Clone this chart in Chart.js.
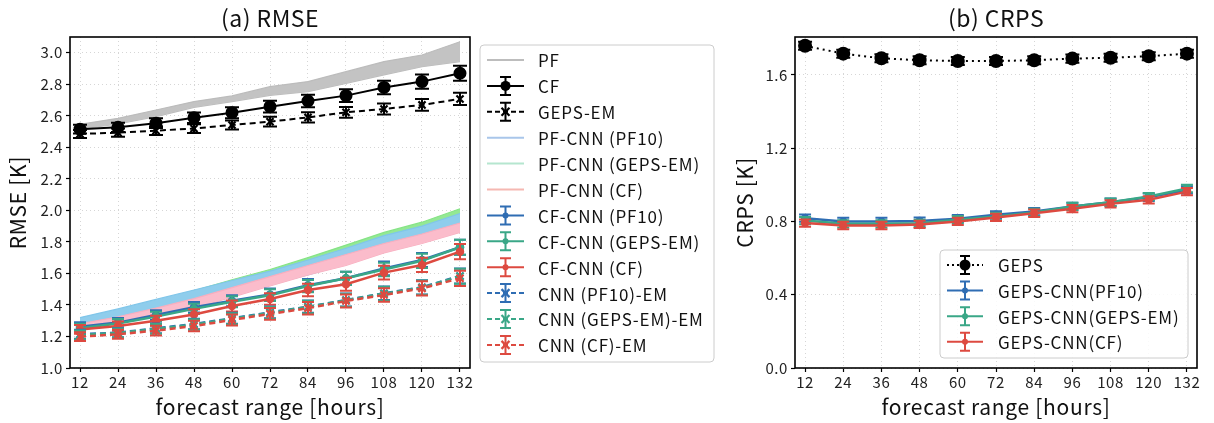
<!DOCTYPE html>
<html>
<head>
<meta charset="utf-8">
<script src="https://cdn.jsdelivr.net/npm/chart.js@4.4.0/dist/chart.umd.min.js"></script>
<style>
  html, body { margin: 0; padding: 0; background: #fff; }
  #wrap { position: relative; width: 1214px; height: 423px; }
  #chartA { position: absolute; left: 0; top: 0; }
  #chartB { position: absolute; left: 725px; top: 0; }
</style>
</head>
<body>
<div id="wrap">
  <canvas id="chartA" width="725" height="423"></canvas>
  <canvas id="chartB" width="489" height="423"></canvas>
</div>
<script>
/***** 1) DATA *****/
const hours     = [12, 24, 36, 48, 60, 72, 84, 96, 108, 120, 132];
const rmseTicks = [1.0, 1.2, 1.4, 1.6, 1.8, 2.0, 2.2, 2.4, 2.6, 2.8, 3.0];
const crpsTicks = [0.0, 0.4, 0.8, 1.2, 1.6];

// (a) RMSE
const pfLow  = [2.515, 2.548, 2.595, 2.654, 2.690, 2.730, 2.753, 2.806, 2.860, 2.912, 2.944];
const pfHigh = [2.546, 2.584, 2.637, 2.690, 2.726, 2.785, 2.817, 2.880, 2.944, 2.986, 3.070];
const cf        = [2.515, 2.527, 2.553, 2.588, 2.620, 2.658, 2.694, 2.728, 2.780, 2.817, 2.870];
const cfErr     = [0.028, 0.029, 0.031, 0.033, 0.035, 0.037, 0.039, 0.041, 0.043, 0.045, 0.048];
const gepsEm    = [2.485, 2.493, 2.506, 2.519, 2.542, 2.563, 2.590, 2.622, 2.643, 2.669, 2.707];
const gepsEmErr = [0.025, 0.026, 0.027, 0.028, 0.029, 0.031, 0.032, 0.034, 0.035, 0.037, 0.039];

const pfCnnPf10Low  = [1.27, 1.31, 1.36, 1.41, 1.47, 1.53, 1.59, 1.66, 1.74, 1.80, 1.87];
const pfCnnPf10High = [1.32, 1.375, 1.435, 1.495, 1.555, 1.615, 1.685, 1.76, 1.84, 1.90, 1.98];
const pfCnnGepsLow  = [1.26, 1.30, 1.36, 1.42, 1.48, 1.55, 1.62, 1.69, 1.76, 1.83, 1.91];
const pfCnnGepsHigh = [1.30, 1.36, 1.42, 1.49, 1.56, 1.625, 1.70, 1.78, 1.86, 1.925, 2.01];
const pfCnnCfLow    = [1.25, 1.29, 1.33, 1.38, 1.45, 1.52, 1.59, 1.65, 1.73, 1.79, 1.86];
const pfCnnCfHigh   = [1.28, 1.325, 1.38, 1.44, 1.51, 1.58, 1.65, 1.72, 1.79, 1.85, 1.92];

const cfCnnPf10 = [1.262, 1.288, 1.336, 1.385, 1.427, 1.467, 1.525, 1.569, 1.632, 1.685, 1.766];
const cfCnnGeps = [1.252, 1.282, 1.326, 1.375, 1.420, 1.462, 1.520, 1.569, 1.625, 1.680, 1.766];
const cfCnnCf   = [1.245, 1.266, 1.300, 1.340, 1.393, 1.438, 1.495, 1.531, 1.605, 1.654, 1.738];
const cnnErr    = [0.028, 0.029, 0.031, 0.033, 0.035, 0.037, 0.039, 0.041, 0.043, 0.045, 0.048];

const cnnPf10Em = [1.214, 1.224, 1.252, 1.279, 1.315, 1.353, 1.389, 1.431, 1.474, 1.512, 1.584];
const cnnGepsEm = [1.210, 1.222, 1.248, 1.276, 1.312, 1.350, 1.387, 1.430, 1.472, 1.510, 1.582];
const cnnCfEm   = [1.199, 1.214, 1.237, 1.266, 1.305, 1.343, 1.379, 1.425, 1.463, 1.505, 1.569];

// (b) CRPS
const geps        = [1.759, 1.716, 1.691, 1.680, 1.676, 1.676, 1.680, 1.689, 1.694, 1.702, 1.716];
const gepsErr     = [0.022, 0.022, 0.022, 0.022, 0.022, 0.022, 0.022, 0.022, 0.022, 0.022, 0.022];
const gepsCnnPf10 = [0.818, 0.800, 0.800, 0.802, 0.815, 0.836, 0.854, 0.882, 0.905, 0.932, 0.972];
const gepsCnnGeps = [0.805, 0.787, 0.787, 0.790, 0.810, 0.827, 0.849, 0.882, 0.905, 0.936, 0.980];
const gepsCnnCf   = [0.791, 0.778, 0.778, 0.784, 0.800, 0.822, 0.845, 0.870, 0.896, 0.918, 0.963];
const crpsErr     = [0.020, 0.020, 0.020, 0.020, 0.020, 0.020, 0.020, 0.020, 0.020, 0.020, 0.020];

/***** 2) STYLE *****/
const FONT = "'Noto Sans CJK JP', 'Noto Sans', sans-serif";
const BLUE = "#2f6db3", GREEN = "#3aa787", RED = "#dd4a40";
const X_MIN = 8.84, X_MAX = 135.16;

const pts = (arr) => hours.map((h, i) => ({ x: h, y: arr[i] }));

/***** 3) PLUGINS *****/
// slightly wider text everywhere (reference font runs wide)
const spacing = {
  id: "spacing",
  beforeDraw(chart){ chart.ctx.letterSpacing = "0.6px"; }
};

// error bars drawn right before their own dataset
const errorBars = {
  id: "errorBars",
  beforeDatasetDraw(chart, args){
    const ds = chart.data.datasets[args.index];
    if (!ds.err) return;
    const { ctx } = chart, xs = chart.scales.x, ys = chart.scales.y;
    const c = ds.cap || 6;
    ctx.save();
    ctx.strokeStyle = ds.borderColor;
    ctx.lineWidth = ds.errWidth || 2;
    ctx.setLineDash([]);
    ds.data.forEach((p, i) => {
      const x  = xs.getPixelForValue(p.x);
      const y1 = ys.getPixelForValue(p.y - ds.err[i]);
      const y2 = ys.getPixelForValue(p.y + ds.err[i]);
      ctx.beginPath();
      ctx.moveTo(x, y1); ctx.lineTo(x, y2);
      ctx.moveTo(x - c, y1); ctx.lineTo(x + c, y1);
      ctx.moveTo(x - c, y2); ctx.lineTo(x + c, y2);
      ctx.stroke();
    });
    ctx.restore();
  }
};

function drawMarker(ctx, kind, x, y, r, color){
  ctx.save();
  ctx.setLineDash([]);
  ctx.fillStyle = color; ctx.strokeStyle = color;
  if (kind === "circle"){
    ctx.beginPath(); ctx.arc(x, y, r, 0, Math.PI * 2); ctx.fill();
  } else if (kind === "x"){
    ctx.lineWidth = 2.2;
    ctx.beginPath();
    ctx.moveTo(x - r, y - r); ctx.lineTo(x + r, y + r);
    ctx.moveTo(x - r, y + r); ctx.lineTo(x + r, y - r);
    ctx.stroke();
  }
  ctx.restore();
}

function drawLegend(ctx, box, items){
  ctx.save();
  ctx.fillStyle = "rgba(255,255,255,0.85)";
  ctx.strokeStyle = "#cccccc";
  ctx.lineWidth = 1;
  ctx.beginPath();
  ctx.roundRect(box.x, box.y, box.w, box.h, 4);
  ctx.fill(); ctx.stroke();
  ctx.font = `17px ${FONT}`;
  ctx.letterSpacing = "0.8px";
  ctx.textBaseline = "middle";
  items.forEach((it, i) => {
    const y = box.firstY + i * box.step;
    const cx = (box.lx0 + box.lx1) / 2;
    ctx.strokeStyle = it.color;
    ctx.lineWidth = it.width || 2;
    ctx.setLineDash(it.dash || []);
    ctx.beginPath(); ctx.moveTo(box.lx0, y); ctx.lineTo(box.lx1, y); ctx.stroke();
    ctx.setLineDash([]);
    if (it.err){
      ctx.lineWidth = 2;
      const e = box.errH, c = box.cap;
      ctx.beginPath();
      ctx.moveTo(cx, y - e); ctx.lineTo(cx, y + e);
      ctx.moveTo(cx - c, y - e); ctx.lineTo(cx + c, y - e);
      ctx.moveTo(cx - c, y + e); ctx.lineTo(cx + c, y + e);
      ctx.stroke();
    }
    if (it.marker) drawMarker(ctx, it.marker, cx, y, it.r || 4, it.color);
    ctx.fillStyle = "#111";
    ctx.fillText(it.label, box.tx, y + 1);
  });
  ctx.restore();
}

function frameAndTitles(opts){
  return {
    id: "frameAndTitles",
    afterDraw(chart){
      const { ctx, chartArea: a } = chart;
      ctx.save();
      ctx.strokeStyle = "#000";
      ctx.lineWidth = 1.6;
      ctx.setLineDash([]);
      ctx.strokeRect(a.left, a.top, a.right - a.left, a.bottom - a.top);
      ctx.fillStyle = "#111";
      ctx.textAlign = "center";
      ctx.textBaseline = "middle";
      ctx.letterSpacing = "0.5px";
      ctx.font = `23px ${FONT}`;
      ctx.fillText(opts.title, (a.left + a.right) / 2, 18);
      ctx.font = `21px ${FONT}`;
      ctx.letterSpacing = "0.7px";
      ctx.fillText("forecast range [hours]", (a.left + a.right) / 2, 407);
      ctx.save();
      ctx.translate(opts.yTitleX, (a.top + a.bottom) / 2);
      ctx.rotate(-Math.PI / 2);
      ctx.fillText(opts.yTitle, 0, 0);
      ctx.restore();
      ctx.textAlign = "left";
      drawLegend(ctx, opts.legendBox, opts.legendItems);
      ctx.restore();
    }
  };
}

/***** 4) COMMON OPTIONS *****/
function makeOptions(yMin, yMax, yTicks, padRight, decimals){
  return {
    responsive: false,
    animation: false,
    layout: { padding: { left: 0, right: padRight, top: 37, bottom: 0 } },
    plugins: { legend: { display: false }, tooltip: { enabled: false } },
    scales: {
      x: {
        type: "linear", min: X_MIN, max: X_MAX,
        afterBuildTicks: (s) => { s.ticks = hours.map(v => ({ value: v })); },
        afterFit: (s) => { s.height = 55; },
        ticks: { color: "#222", font: { family: FONT, size: 15 }, padding: 1, maxRotation: 0, autoSkip: false },
        grid: { color: "#d6d6d6", lineWidth: 1, tickColor: "#000", tickLength: 4, tickWidth: 1.2 },
        border: { display: false, dash: [1, 3] }
      },
      y: {
        type: "linear", min: yMin, max: yMax,
        afterBuildTicks: (s) => { s.ticks = yTicks.map(v => ({ value: v })); },
        afterFit: (s) => { s.width = 70; },
        ticks: { color: "#222", font: { family: FONT, size: 15 }, padding: 3, callback: (v) => Number(v).toFixed(decimals) },
        grid: { color: "#d6d6d6", lineWidth: 1, tickColor: "#000", tickLength: 4, tickWidth: 1.2 },
        border: { display: false, dash: [1, 3] }
      }
    }
  };
}

function band(label, low, high, line, fill, idx){
  return [
    { label: label + " low", data: pts(low), borderColor: line, backgroundColor: fill,
      borderWidth: 1.2, pointRadius: 0, fill: false, order: 100 - idx },
    { label: label, data: pts(high), borderColor: line, backgroundColor: fill,
      borderWidth: 1.2, pointRadius: 0, fill: "-1", order: 99 - idx }
  ];
}

function series(label, arr, err, color, opt, idx){
  return Object.assign({
    label, data: pts(arr), err, borderColor: color, backgroundColor: color,
    borderWidth: 2.2, pointRadius: 3, pointHoverRadius: 3, pointBorderColor: color,
    pointBackgroundColor: color, pointStyle: "circle", fill: false, cap: 6, order: 100 - idx
  }, opt);
}

/***** 5) CHART A: RMSE *****/
const dsA = [
  ...band("PF", pfLow, pfHigh, "#bcbcbc", "#c3c3c3", 0),
  series("CF", cf, cfErr, "#000", { pointRadius: 5.5, borderWidth: 2, cap: 7 }, 2),
  series("GEPS-EM", gepsEm, gepsEmErr, "#000", { borderDash: [6, 4], pointStyle: "crossRot", pointRadius: 5, pointBorderWidth: 2.2, borderWidth: 2, cap: 7 }, 3),
  ...band("PF-CNN (GEPS-EM)", pfCnnGepsLow, pfCnnGepsHigh, "#86e486", "#94e894", 4),
  ...band("PF-CNN (PF10)", pfCnnPf10Low, pfCnnPf10High, "#80c6ea", "#8fcdec", 6),
  ...band("PF-CNN (CF)", pfCnnCfLow, pfCnnCfHigh, "#f8aebf", "#fbbccb", 8),
  series("CF-CNN (PF10)", cfCnnPf10, cnnErr, BLUE, { borderWidth: 2.5 }, 10),
  series("CF-CNN (GEPS-EM)", cfCnnGeps, cnnErr, GREEN, { borderWidth: 2.5 }, 11),
  series("CF-CNN (CF)", cfCnnCf, cnnErr, RED, { borderWidth: 2.5 }, 12),
  series("CNN (PF10)-EM", cnnPf10Em, cnnErr, BLUE, { borderDash: [6, 4], pointStyle: "crossRot", pointRadius: 5, pointBorderWidth: 2.2, borderWidth: 2.5 }, 13),
  series("CNN (GEPS-EM)-EM", cnnGepsEm, cnnErr, GREEN, { borderDash: [6, 4], pointStyle: "crossRot", pointRadius: 5, pointBorderWidth: 2.2, borderWidth: 2.5 }, 14),
  series("CNN (CF)-EM", cnnCfEm, cnnErr, RED, { borderDash: [6, 4], pointStyle: "crossRot", pointRadius: 5, pointBorderWidth: 2.2, borderWidth: 2.5 }, 15)
];

const legendA = [
  { label: "PF", color: "#bdbdbd" },
  { label: "CF", color: "#000", err: true, marker: "circle", r: 5 },
  { label: "GEPS-EM", color: "#000", dash: [5, 3], err: true, marker: "x", r: 4 },
  { label: "PF-CNN (PF10)", color: "#a9c6ea" },
  { label: "PF-CNN (GEPS-EM)", color: "#b5e6cf" },
  { label: "PF-CNN (CF)", color: "#f5b8b2" },
  { label: "CF-CNN (PF10)", color: BLUE, err: true, marker: "circle", r: 3 },
  { label: "CF-CNN (GEPS-EM)", color: GREEN, err: true, marker: "circle", r: 3 },
  { label: "CF-CNN (CF)", color: RED, err: true, marker: "circle", r: 3 },
  { label: "CNN (PF10)-EM", color: BLUE, dash: [5, 3], err: true, marker: "x", r: 4 },
  { label: "CNN (GEPS-EM)-EM", color: GREEN, dash: [5, 3], err: true, marker: "x", r: 4 },
  { label: "CNN (CF)-EM", color: RED, dash: [5, 3], err: true, marker: "x", r: 4 }
];

new Chart(document.getElementById("chartA"), {
  type: "line",
  data: { datasets: dsA },
  options: makeOptions(1.0, 3.1, rmseTicks, 725 - 470, 1),
  plugins: [spacing, errorBars, frameAndTitles({
    title: "(a) RMSE", yTitle: "RMSE [K]", yTitleX: 18,
    legendBox: { x: 480, y: 45, w: 234, h: 317, firstY: 60, step: 25.9, lx0: 487, lx1: 524, tx: 538, errH: 9, cap: 5.5 },
    legendItems: legendA
  })]
});

/***** 6) CHART B: CRPS *****/
const dsB = [
  series("GEPS", geps, gepsErr, "#000", { borderDash: [2, 4], pointRadius: 6, borderWidth: 2, cap: 7 }, 0),
  series("GEPS-CNN(PF10)", gepsCnnPf10, crpsErr, BLUE, { borderWidth: 2.5 }, 1),
  series("GEPS-CNN(GEPS-EM)", gepsCnnGeps, crpsErr, GREEN, { borderWidth: 2.5 }, 2),
  series("GEPS-CNN(CF)", gepsCnnCf, crpsErr, RED, { borderWidth: 2.5 }, 3)
];

const legendB = [
  { label: "GEPS", color: "#000", dash: [2, 3], err: true, marker: "circle", r: 5.5 },
  { label: "GEPS-CNN(PF10)", color: BLUE, err: true, marker: "circle", r: 3 },
  { label: "GEPS-CNN(GEPS-EM)", color: GREEN, err: true, marker: "circle", r: 3 },
  { label: "GEPS-CNN(CF)", color: RED, err: true, marker: "circle", r: 3 }
];

new Chart(document.getElementById("chartB"), {
  type: "line",
  data: { datasets: dsB },
  options: makeOptions(0, 1.807, crpsTicks, 489 - 472, 1),
  plugins: [spacing, errorBars, frameAndTitles({
    title: "(b) CRPS", yTitle: "CRPS [K]", yTitleX: 20,
    legendBox: { x: 940 - 725, y: 250, w: 248, h: 108, firstY: 265, step: 25.6, lx0: 947 - 725, lx1: 983 - 725, tx: 998 - 725, errH: 9, cap: 5 },
    legendItems: legendB
  })]
});
</script>
</body>
</html>
